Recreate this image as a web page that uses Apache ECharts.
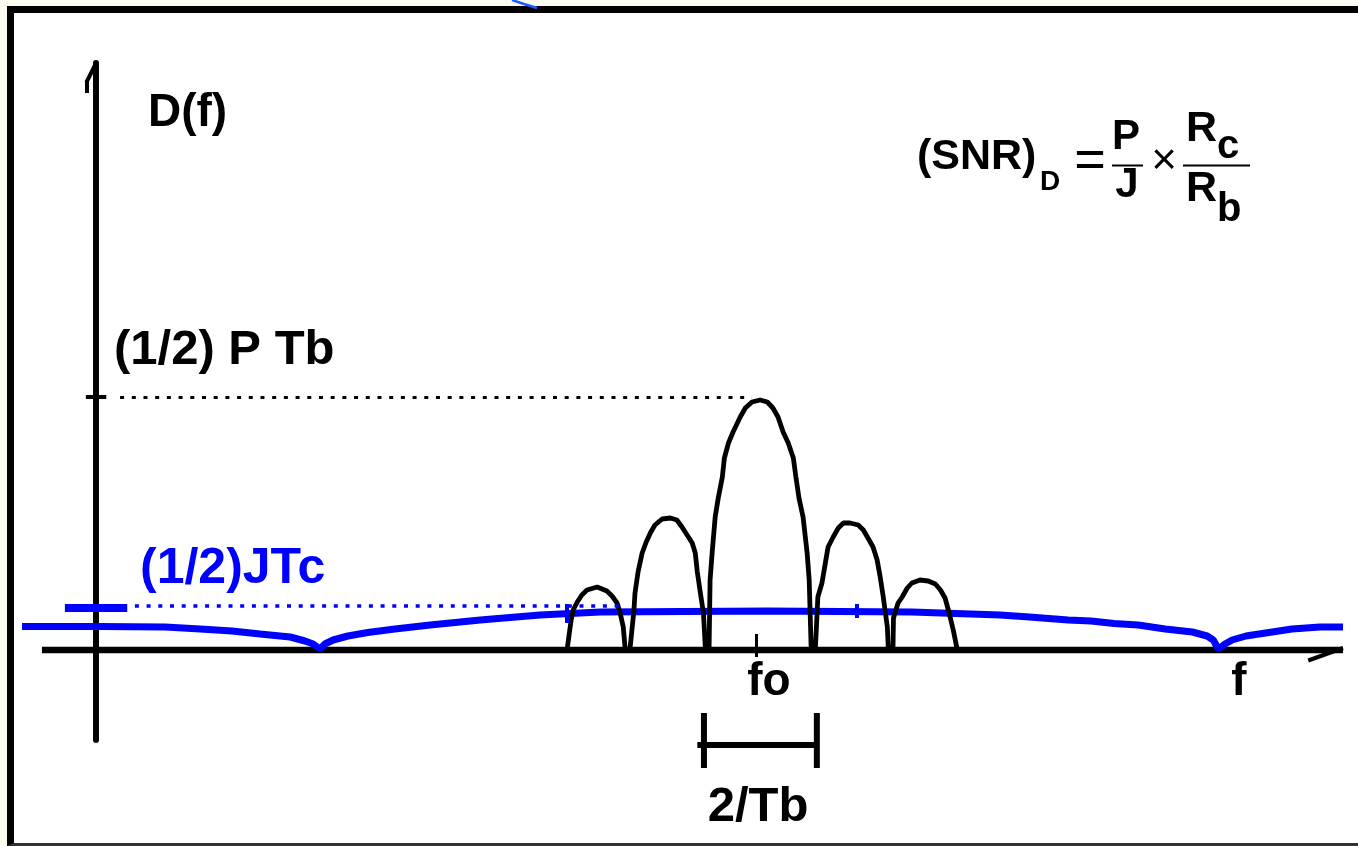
<!DOCTYPE html>
<html><head><meta charset="utf-8">
<script src="https://cdn.jsdelivr.net/npm/echarts@6/dist/echarts.min.js"></script>
<style>
html,body{margin:0;padding:0;background:#fbfbf1;overflow:hidden;}
#frame{position:absolute;left:7px;top:6px;width:1351px;height:840px;box-sizing:border-box;background:#fff;border-top:7px solid #000;border-left:7px solid #000;border-bottom:3px solid #333;}
#chart{position:absolute;left:0;top:0;width:1358px;height:846px;}
</style></head><body>
<div id="frame"></div><div id="chart"></div>
<script>
// x: frequency in units of 1/Tb (f0 = 13); y: spectral density relative to (1/2)P*Tb
const F0 = 13;
const P_LEVEL = 1.0;      // (1/2) P Tb
const J_LEVEL = 0.176;    // (1/2) J Tc
const lobeL2 = [[9.22,0],[9.30,0.12],[9.34,0.16],[9.42,0.192],[9.51,0.22],[9.61,0.24],[9.81,0.252],[10.0,0.236],[10.10,0.216],[10.20,0.188],[10.26,0.148],[10.32,0.092],[10.36,0]];
const lobeL1 = [[10.45,0],[10.53,0.16],[10.55,0.228],[10.61,0.312],[10.69,0.388],[10.77,0.432],[10.85,0.468],[10.94,0.5],[11.08,0.524],[11.24,0.528],[11.37,0.52],[11.47,0.492],[11.57,0.46],[11.67,0.428],[11.73,0.388],[11.77,0.312],[11.83,0.228],[11.89,0.148],[11.93,0]];
const lobeMain = [[12.0,0],[12.02,0.28],[12.06,0.388],[12.12,0.532],[12.18,0.608],[12.26,0.692],[12.30,0.768],[12.38,0.828],[12.47,0.872],[12.61,0.932],[12.71,0.968],[12.84,0.992],[13.0,1.0],[13.14,0.992],[13.25,0.968],[13.35,0.932],[13.45,0.872],[13.55,0.828],[13.65,0.768],[13.70,0.692],[13.76,0.608],[13.84,0.532],[13.92,0.388],[13.96,0.28],[14.0,0]];
const lobeR1 = [[14.08,0],[14.13,0.212],[14.21,0.268],[14.27,0.34],[14.33,0.412],[14.43,0.452],[14.53,0.488],[14.63,0.508],[14.76,0.508],[14.92,0.5],[15.02,0.48],[15.11,0.448],[15.21,0.412],[15.29,0.36],[15.35,0.292],[15.41,0.212],[15.49,0.092],[15.51,0]];
const lobeR2 = [[15.6,0],[15.61,0.128],[15.70,0.188],[15.78,0.212],[15.88,0.248],[15.97,0.268],[16.13,0.28],[16.29,0.276],[16.43,0.264],[16.53,0.24],[16.62,0.208],[16.70,0.148],[16.78,0.08],[16.86,0]];
const jammer = [[-1.45,0.094],[0.08,0.094],[1.35,0.092],[2.04,0.084],[2.66,0.076],[3.21,0.064],[3.80,0.052],[4.09,0.036],[4.25,0.024],[4.385,0.004],[4.48,0.024],[4.64,0.04],[4.93,0.056],[5.32,0.07],[5.85,0.084],[6.54,0.1],[7.52,0.12],[8.69,0.14],[9.87,0.152],[13.14,0.156],[15.97,0.152],[17.70,0.14],[18.27,0.132],[19.03,0.12],[19.48,0.116],[19.93,0.106],[20.40,0.1],[20.93,0.084],[21.46,0.072],[21.75,0.056],[21.87,0.04],[21.97,0.004],[22.10,0.024],[22.24,0.04],[22.51,0.056],[22.96,0.07],[23.41,0.084],[23.96,0.092],[24.41,0.092]];
const F_AXIS = [-1.06, 24.41];     // extent of the drawn frequency axis
const BRACKET = [F0 - 1.1, F0 + 1.1]; // the 2/Tb span marker
const X_RANGE = [-1.45, 24.41];
const Y_RANGE = [-0.36, 2.348];
const labels = {yName:'D(f)', pLevel:'(1/2) P Tb', jLevel:'(1/2)JTc', f0:'fo', f:'f', span:'2/Tb'};

const FONT = '"Liberation Sans", Arial, sans-serif';
function seg(a, b, color, width, dash) {
  return [{coord:a, lineStyle:{color:color, width:width, type: dash || 'solid', cap:'butt'}}, {coord:b}];
}
function lineSeries(data, color, width, z) {
  return {type:'line', data:data, symbol:'none', clip:false, silent:true, z:z||2, animation:false,
    lineStyle:{color:color, width:width, cap:'butt'}};
}
const chart = echarts.init(document.getElementById('chart'), null, {renderer:'canvas'});
chart.setOption({
  animation:false,
  backgroundColor:'transparent',
  grid:{left:22, right:15, top:63, bottom:106},
  xAxis:{type:'value', min:X_RANGE[0], max:X_RANGE[1], axisLine:{show:false},
    axisTick:{show:false}, axisLabel:{show:false}, splitLine:{show:false}},
  yAxis:{type:'value', min:Y_RANGE[0], max:Y_RANGE[1], axisLine:{onZero:true, lineStyle:{color:'#000', width:6}},
    axisTick:{show:false}, axisLabel:{show:false}, splitLine:{show:false}},
  series:[
    lineSeries([[F_AXIS[0],0],[F_AXIS[1],0]], '#000', 6.5, 1),
    Object.assign(lineSeries(jammer, '#0000ff', 7, 2), {
      markLine:{silent:true, symbol:['none','none'], label:{show:false}, animation:false,
        data:[
          seg([-0.61, J_LEVEL-0.008], [0.61, J_LEVEL-0.008], '#0000ff', 8),
          seg([0.76, J_LEVEL], [10.37, J_LEVEL], '#0000ff', 3.5, [4, 7.7]),
          seg([9.22, 0.184], [9.22, 0.108], '#0000ff', 4),
          seg([14.9, 0.184], [14.9, 0.128], '#0000ff', 4)
        ]}
    }),
    Object.assign(lineSeries([].concat(lobeL2, lobeL1, lobeMain, lobeR1, lobeR2), '#000', 4.8, 3), {
      markLine:{silent:true, symbol:['none','none'], label:{show:false}, animation:false,
        data:[
          seg([0.47, P_LEVEL+0.012], [12.84, P_LEVEL+0.012], '#000', 3, [4, 7.7]),
          seg([-0.2, P_LEVEL+0.012], [0.2, P_LEVEL+0.012], '#000', 4),
          seg([F0-0.08, 0.064], [F0-0.08, -0.028], '#000', 3),
          seg([24.41, 0.008], [23.73, -0.042], '#000', 4),
          seg([0, 2.348], [-0.19, 2.27], '#000', 4),
          seg([-0.19, 2.275], [-0.19, 2.228], '#000', 4)
        ]}
    }),
    lineSeries([[BRACKET[0]-0.13, -0.38],[BRACKET[1]+0.02, -0.38]], '#000', 6, 3),
    lineSeries([[BRACKET[0], -0.252],[BRACKET[0], -0.472]], '#000', 6, 3),
    lineSeries([[BRACKET[1]+0.01, -0.252],[BRACKET[1]+0.01, -0.472]], '#000', 6, 3)
  ],
  graphic:[
    {type:'polyline', shape:{points:[[512,0],[524,4],[537,8]]}, style:{stroke:'#1a5cff', lineWidth:2.5, fill:null}, z:10},
    {type:'text', x:148, y:113, style:{text:labels.yName, font:'bold 46px '+FONT, fill:'#000', align:'left', verticalAlign:'middle'}},
    {type:'text', x:114, y:350, style:{text:labels.pLevel, font:'bold 49px '+FONT, fill:'#000', align:'left', verticalAlign:'middle'}},
    {type:'text', x:140, y:569, style:{text:labels.jLevel, font:'bold 50px '+FONT, fill:'#0000ff', align:'left', verticalAlign:'middle'}},
    {type:'text', x:769, y:682, style:{text:labels.f0, font:'bold 46px '+FONT, fill:'#000', align:'center', verticalAlign:'middle'}},
    {type:'text', x:1239, y:682, style:{text:labels.f, font:'bold 46px '+FONT, fill:'#000', align:'center', verticalAlign:'middle'}},
    {type:'text', x:758, y:807, style:{text:labels.span, font:'bold 49px '+FONT, fill:'#000', align:'center', verticalAlign:'middle'}},
    // (SNR)_D = P/J x Rc/Rb
    {type:'text', x:917, y:157, style:{text:'(SNR)', font:'bold 43px '+FONT, fill:'#000', align:'left', verticalAlign:'middle'}},
    {type:'text', x:1040, y:182, style:{text:'D', font:'bold 28px '+FONT, fill:'#000', align:'left', verticalAlign:'middle'}},
    {type:'text', x:1090, y:162, style:{text:'=', font:'54px '+FONT, fill:'#000', align:'center', verticalAlign:'middle'}},
    {type:'text', x:1126, y:137, style:{text:'P', font:'bold 42px '+FONT, fill:'#000', align:'center', verticalAlign:'middle'}},
    {type:'line', shape:{x1:1112, y1:165.5, x2:1143, y2:165.5}, style:{stroke:'#000', lineWidth:2}},
    {type:'text', x:1127, y:185, style:{text:'J', font:'bold 42px '+FONT, fill:'#000', align:'center', verticalAlign:'middle'}},
    {type:'text', x:1164, y:162, style:{text:'\u00d7', font:'44px '+FONT, fill:'#000', align:'center', verticalAlign:'middle'}},
    {type:'text', x:1186, y:129, style:{text:'R', font:'bold 43px '+FONT, fill:'#000', align:'left', verticalAlign:'middle'}},
    {type:'text', x:1217, y:147, style:{text:'c', font:'bold 40px '+FONT, fill:'#000', align:'left', verticalAlign:'middle'}},
    {type:'line', shape:{x1:1183, y1:165.5, x2:1250, y2:165.5}, style:{stroke:'#000', lineWidth:2}},
    {type:'text', x:1186, y:189, style:{text:'R', font:'bold 43px '+FONT, fill:'#000', align:'left', verticalAlign:'middle'}},
    {type:'text', x:1217, y:210, style:{text:'b', font:'bold 40px '+FONT, fill:'#000', align:'left', verticalAlign:'middle'}}
  ]
});
</script></body></html>
